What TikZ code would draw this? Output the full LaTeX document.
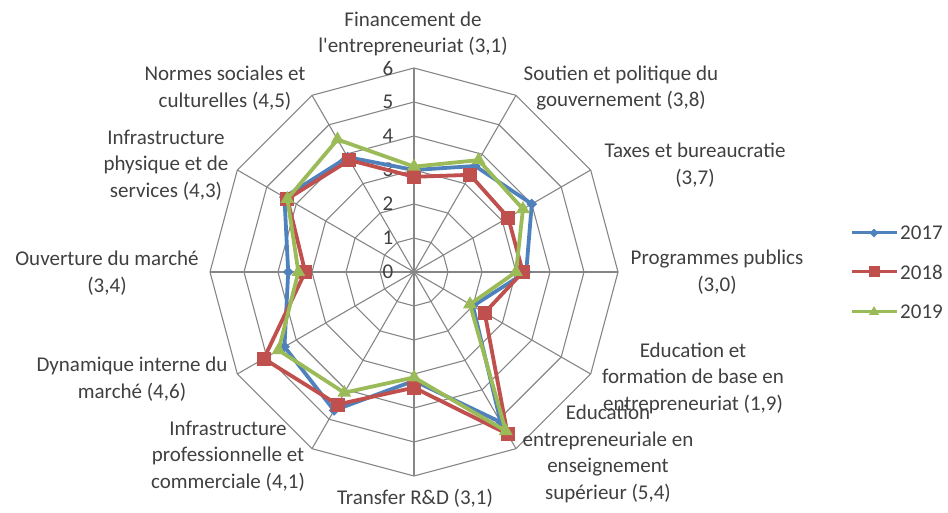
\documentclass[tikz,border=0pt]{standalone}
\usepackage{fontspec}
\setmainfont{Carlito}
\usetikzlibrary{shapes.geometric}
\definecolor{gridgray}{RGB}{134,134,134}
\definecolor{txtgray}{RGB}{64,64,64}
\definecolor{blue17}{RGB}{79,129,189}
\definecolor{red18}{RGB}{192,80,77}
\definecolor{green19}{RGB}{155,187,89}

\begin{document}
\begin{tikzpicture}[x=1pt,y=1pt,
    font=\fontsize{21}{26.5}\selectfont,
    axislabel/.style={align=center,inner sep=0pt,text=txtgray},
    serie/.style={line width=3.8pt,line join=round},
    pt17/.style={diamond,fill=blue17,inner sep=0pt,minimum size=11pt},
    pt18/.style={rectangle,fill=red18,inner sep=0pt,minimum size=14pt},
    pt19/.style={regular polygon,regular polygon sides=3,fill=green19,inner sep=0pt,minimum size=16pt}]
        \useasboundingbox (0,0) rectangle (948,512);

        \begin{scope}[shift={(414,240)}]
        % grid
        \foreach \k in {1,...,6}
            \draw[gridgray,line width=1.1pt] (90:{\k*34}) \foreach \a in {60,30,...,-240} {-- (\a:{\k*34})} -- cycle;
        \foreach \a in {0,30,...,330}
            \draw[gridgray,line width=1.1pt] (0,0) -- (\a:204);

        % scale
        \foreach \k in {0,...,6}
            \node[axislabel] (s\k) at (-26,{\k*34}) {\k};

        % 2017
        \foreach \v [count=\i from 0] in {3.0,3.6,4.0,3.3,2.0,5.1,3.2,4.7,4.4,3.7,4.4,3.9}
            \coordinate (a\i) at ({90-30*\i}:{\v*34});
        \draw[serie,blue17] (a0) \foreach \i in {1,...,11} {-- (a\i)} -- cycle;
        \foreach \i in {0,...,11} \node[pt17] (ma\i) at (a\i) {};

        % 2018
        \foreach \v [count=\i from 0] in {2.8,3.3,3.2,3.2,2.4,5.5,3.4,4.5,5.1,3.2,4.3,3.8}
            \coordinate (b\i) at ({90-30*\i}:{\v*34});
        \draw[serie,red18] (b0) \foreach \i in {1,...,11} {-- (b\i)} -- cycle;
        \foreach \i in {0,...,11} \node[pt18] (mb\i) at (b\i) {};

        % 2019
        \foreach \v [count=\i from 0] in {3.1,3.8,3.7,3.0,1.9,5.4,3.1,4.1,4.6,3.4,4.3,4.5}
            \coordinate (c\i) at ({90-30*\i}:{\v*34});
        \draw[serie,green19] (c0) \foreach \i in {1,...,11} {-- (c\i)} -- cycle;
        \foreach \i in {0,...,11} \node[pt19] (mc\i) at (c\i) {};
        \end{scope}

        % axis labels
        \node[axislabel] (fin) at (413,478) {Financement de\\l\textquotesingle entrepreneuriat (3,1)};
        \node[axislabel] (sou) at (621,424) {Soutien et politique du\\gouvernement (3,8)};
        \node[axislabel] (tax) at (695,347) {Taxes et bureaucratie\\(3,7)};
        \node[axislabel] (pro) at (717,240) {Programmes publics\\(3,0)};
        \node[axislabel] (edb) at (693,134) {Education et\\formation de base en\\entrepreneuriat (1,9)};
        \node[axislabel] (eds) at (608,58) {Education\\entrepreneuriale en\\enseignement\\supérieur (5,4)};
        \node[axislabel] (trd) at (415,14) {Transfer R\&D (3,1)};
        \node[axislabel] (ipc) at (228,56) {Infrastructure\\professionnelle et\\commerciale (4,1)};
        \node[axislabel] (dyn) at (132,133) {Dynamique interne du\\marché (4,6)};
        \node[axislabel] (ouv) at (107,239) {Ouverture du marché\\(3,4)};
        \node[axislabel] (ips) at (166,347) {Infrastructure\\physique et de\\services (4,3)};
        \node[axislabel] (nsc) at (225,424) {Normes sociales et\\culturelles (4,5)};

        % legend
        \draw[blue17,line width=3pt] (852,279) -- (897,279);
        \node[pt17,minimum size=9pt] (l17) at (874,279) {};
        \node[axislabel,anchor=west] at (900,279) {2017};
        \draw[red18,line width=3pt] (852,240) -- (897,240);
        \node[pt18,minimum size=11pt] (l18) at (874,240) {};
        \node[axislabel,anchor=west] at (900,240) {2018};
        \draw[green19,line width=3pt] (852,200) -- (897,200);
        \node[pt19,minimum size=12pt] (l19) at (874,200) {};
        \node[axislabel,anchor=west] at (900,200) {2019};
\end{tikzpicture}
\end{document}
